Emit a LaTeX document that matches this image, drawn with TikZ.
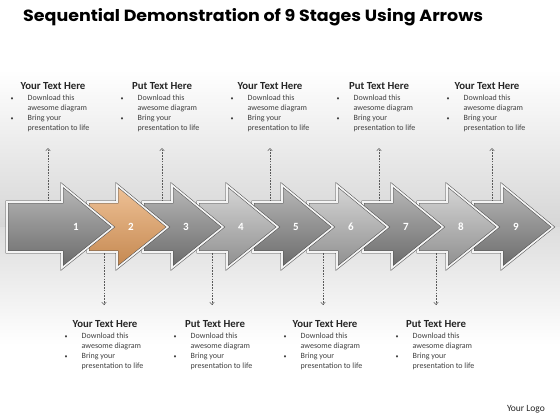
\documentclass[tikz,border=0pt]{standalone}
\usepackage{fontspec}
\setmainfont{Carlito}
\newfontfamily\titlefont{Poppins}
\usetikzlibrary{arrows.meta}
\definecolor{dkTop}{HTML}{B8B8B8}
\definecolor{dkBot}{HTML}{6A6A6A}
\definecolor{ltTop}{HTML}{D6D6D6}
\definecolor{ltBot}{HTML}{8E8E8E}
\definecolor{orTop}{HTML}{EFC297}
\definecolor{orBot}{HTML}{C4874F}
\definecolor{edgeDark}{HTML}{4A4A4A}
\definecolor{edgeLight}{HTML}{F4F4F4}
\definecolor{bandGray}{HTML}{D6D6D6}
\definecolor{lowGray}{HTML}{DDDDDD}
\definecolor{headTxt}{HTML}{262626}
\definecolor{bodyTxt}{HTML}{404040}
\definecolor{connGray}{HTML}{5A5A5A}
\newcommand\blockbody{\begin{tabular}[t]{@{}p{17pt}@{}l@{}}%
{\fontsize{6}{6}\selectfont\textbullet} & Download this\\
 & awesome diagram\\
{\fontsize{6}{6}\selectfont\textbullet} & Bring your\\
 & presentation to life\end{tabular}}
\begin{document}
\begin{tikzpicture}[x=1pt,y=-1pt,
  arrowbase/.style={draw=edgeDark, double=edgeLight, double distance=1.7pt, line width=0.5pt, line join=miter},
  darkarrow/.style={arrowbase, top color=dkTop, bottom color=dkBot},
  lightarrow/.style={arrowbase, top color=ltTop, bottom color=ltBot},
  orangearrow/.style={arrowbase, top color=orTop, bottom color=orBot},
  numlbl/.style={text=white, font=\fontsize{11}{12}\selectfont\bfseries, inner sep=0pt},
  headlbl/.style={text=headTxt, font=\fontsize{10.8}{12}\selectfont\bfseries, inner sep=0pt, anchor=base},
  bodylbl/.style={text=bodyTxt, font=\fontsize{8}{10}\selectfont, inner sep=0pt, anchor=base west},
  conn/.style={draw=connGray, line width=0.5pt, dash pattern=on 1.6pt off 1.2pt, -{Straight Barb[length=2.5pt,width=4.5pt]}},
  logolbl/.style={text=headTxt, font=\fontsize{9.5}{11}\selectfont, inner sep=0pt, anchor=base east},
  titlelbl/.style={text=black, inner sep=0pt, anchor=base west}
]
\useasboundingbox (0,0) rectangle (560,420);
% background
\fill[white] (0,0) rectangle (560,420);
\shade[top color=white, bottom color=bandGray] (0,70) rectangle (560,227);
\shade[top color=lowGray, bottom color=white] (0,227) rectangle (560,345);
\fill[white] (0,345) rectangle (560,420);

% title
\node[titlelbl] (title) at (23,21.5) {\resizebox{460pt}{13pt}{\titlefont\bfseries Sequential Demonstration of 9 Stages Using Arrows}};

% text blocks top
\foreach \name/\bx/\cx/\ttl in {t1/12/53/Your Text Here, t2/122/162/Put Text Here, t3/232/270/Your Text Here, t4/338/379/Put Text Here, t5/448/487/Your Text Here}{
  \node[headlbl] (\name h) at (\cx,89.5) {\ttl};
  \node[bodylbl] (\name b) at (\bx-1.5,100.5) {\blockbody};
}
% text blocks bottom
\foreach \name/\bx/\cx/\ttl in {b1/66/105/Your Text Here, b2/175/215/Put Text Here, b3/285/325/Your Text Here, b4/397/436/Put Text Here}{
  \node[headlbl] (\name h) at (\cx,327.5) {\ttl};
  \node[bodylbl] (\name b) at (\bx-1.5,338.5) {\blockbody};
}

% connector end points
\foreach \name/\x in {u1/48, u2/162, u3/270, u4/379, u5/492}{
  \coordinate (\name s) at (\x,210);
  \coordinate (\name e) at (\x,148);
}
\foreach \name/\x in {d1/104, d2/212, d3/323, d4/436}{
  \coordinate (\name s) at (\x,245);
  \coordinate (\name e) at (\x,305);
}
\foreach \name in {u1,u2,u3,u4,u5,d1,d2,d3,d4}{
  \draw[conn] (\name s) -- (\name e);
}

% arrows, drawn from last to first
\foreach \k/\sty in {9/darkarrow, 8/lightarrow, 7/darkarrow, 6/lightarrow, 5/darkarrow, 4/lightarrow, 3/darkarrow, 2/orangearrow, 1/darkarrow}{
  \pgfmathsetmacro\b{62+55*(\k-1)}
  \pgfmathsetmacro\t{\b+51}
  \pgfmathsetmacro\L{ifthenelse(\k==1,7,\b-29)}
  \path[\sty] (\L,202) -- (\b,202) -- (\b,185) -- (\t,227) -- (\b,268) -- (\b,252) -- (\L,252) -- cycle;
  \node[numlbl] (n\k) at (\b+14,227) {\k};
}

\node[logolbl] (logo) at (545,411) {Your Logo};
\end{tikzpicture}
\end{document}
